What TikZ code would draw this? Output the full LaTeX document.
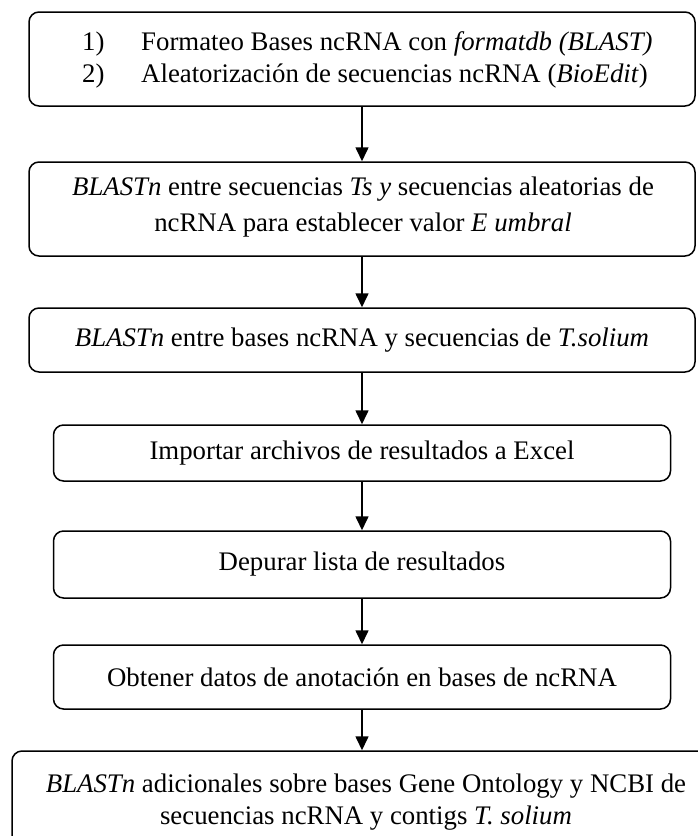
\documentclass[tikz,border=0pt]{standalone}
\usepackage{fontspec}
\setmainfont{Liberation Serif}
\usetikzlibrary{arrows.meta}
\begin{document}
\begin{tikzpicture}[x=1pt,y=-1pt,
  box/.style={draw,line width=1.5pt,rounded corners=10pt,inner sep=0pt},
  arr/.style={line width=1.6pt,-{Triangle[length=14pt,width=13pt]}},
  txt/.style={font=\fontsize{26.8}{32}\selectfont,align=center,inner sep=0pt},
  ltxt/.style={font=\fontsize{26.8}{32}\selectfont,inner sep=0pt,anchor=base west}]
\useasboundingbox (0,0) rectangle (698,836);
\node[box,minimum width=666pt,minimum height=94pt] (b1) at (362,59) {};
\node[ltxt] (n1) at (82,50) {1)};
\node[ltxt] (l1) at (141,50) {Formateo Bases ncRNA con \textit{formatdb (BLAST)}};
\node[ltxt] (n2) at (82,82) {2)};
\node[ltxt] (l2) at (141,82) {Aleatorización de secuencias ncRNA (\textit{BioEdit})};
\node[box,minimum width=666pt,minimum height=94pt] (b2) at (362,209) {};
\node[txt,font=\fontsize{26.8}{36}\selectfont] (b2t) at (363,207) {\textit{BLASTn} entre secuencias \textit{Ts y} secuencias aleatorias de\\ncRNA para establecer valor \textit{E umbral}};
\node[box,minimum width=666pt,minimum height=64pt,txt] (b3) at (362,340) {\textit{BLASTn} entre bases ncRNA y secuencias de \textit{T.solium}};
\node[box,minimum width=617pt,minimum height=56pt,txt] (b4) at (362,453) {Importar archivos de resultados a Excel};
\node[box,minimum width=617pt,minimum height=67pt,txt] (b5) at (362,564.5) {Depurar lista de resultados};
\node[box,minimum width=617pt,minimum height=64pt,txt] (b6) at (362,677) {Obtener datos de anotación en bases de ncRNA};
\node[box,minimum width=706pt,minimum height=110pt] (b7) at (365,806) {};
\node[txt] (b7t) at (366,802) {\textit{BLASTn} adicionales sobre bases Gene Ontology y NCBI de\\secuencias ncRNA y contigs \textit{T. solium}};
\draw[arr] (b1.south) -- (b2.north);
\draw[arr] (b2.south) -- (b3.north);
\draw[arr] (b3.south) -- (b4.north);
\draw[arr] (b4.south) -- (b5.north);
\draw[arr] (b5.south) -- (b6.north);
\draw[arr] (b6.south) -- (b6.south |- b7.north);
\end{tikzpicture}
\end{document}
